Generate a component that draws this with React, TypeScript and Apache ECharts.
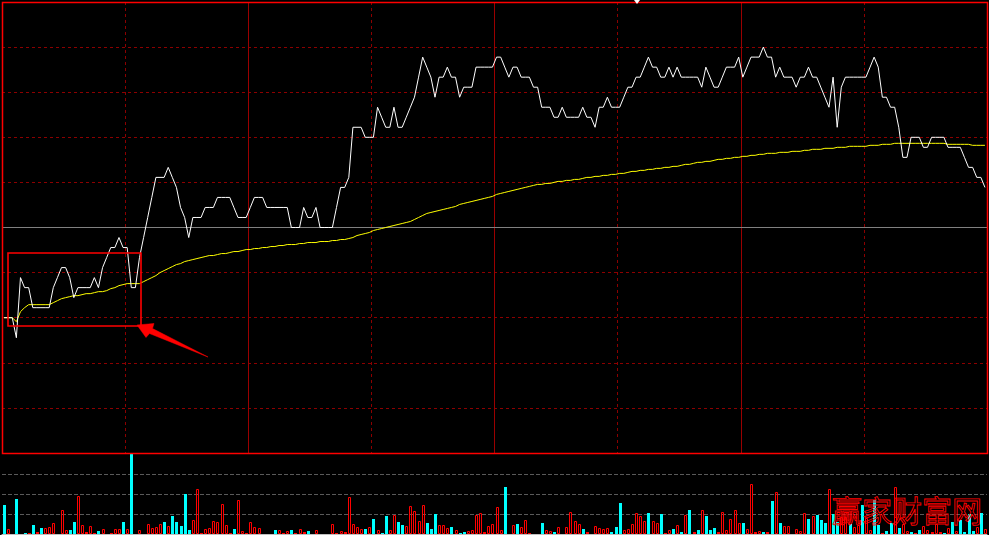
import React, { useEffect, useRef } from "react";
import * as echarts from "echarts";

const PREV_CLOSE = 4.5;

const priceLine = [
  4.41, 4.41, 4.41, 4.39, 4.45, 4.44, 4.44, 4.42, 4.42, 4.42,
  4.42, 4.42, 4.44, 4.45, 4.46, 4.46, 4.45, 4.43, 4.44, 4.44,
  4.44, 4.44, 4.45, 4.44, 4.46, 4.47, 4.48, 4.48, 4.49, 4.48,
  4.48, 4.44, 4.44, 4.47, 4.49, 4.51, 4.53, 4.55, 4.55, 4.55,
  4.56, 4.55, 4.54, 4.52, 4.51, 4.49, 4.51, 4.51, 4.51, 4.52,
  4.52, 4.52, 4.53, 4.53, 4.53, 4.53, 4.52, 4.51, 4.51, 4.51,
  4.52, 4.53, 4.53, 4.53, 4.52, 4.52, 4.52, 4.52, 4.52, 4.52,
  4.50, 4.50, 4.50, 4.52, 4.51, 4.51, 4.52, 4.50, 4.50, 4.50,
  4.50, 4.52, 4.54, 4.54, 4.55, 4.60, 4.60, 4.60, 4.59, 4.59,
  4.59, 4.62, 4.61, 4.60, 4.60, 4.62, 4.60, 4.60, 4.61, 4.62,
  4.63, 4.65, 4.67, 4.66, 4.65, 4.63, 4.65, 4.65, 4.66, 4.65,
  4.65, 4.63, 4.64, 4.64, 4.64, 4.66, 4.66, 4.66, 4.66, 4.66,
  4.67, 4.67, 4.66, 4.65, 4.66, 4.66, 4.65, 4.65, 4.65, 4.64,
  4.64, 4.62, 4.62, 4.62, 4.61, 4.61, 4.62, 4.61, 4.61, 4.61,
  4.61, 4.62, 4.61, 4.61, 4.60, 4.62, 4.62, 4.63, 4.62, 4.62,
  4.62, 4.63, 4.64, 4.64, 4.65, 4.65, 4.66, 4.67, 4.66, 4.66,
  4.65, 4.65, 4.66, 4.65, 4.66, 4.65, 4.65, 4.65, 4.65, 4.65,
  4.64, 4.66, 4.65, 4.64, 4.64, 4.65, 4.66, 4.66, 4.66, 4.67,
  4.65, 4.66, 4.67, 4.67, 4.67, 4.68, 4.67, 4.67, 4.65, 4.66,
  4.65, 4.65, 4.65, 4.64, 4.65, 4.65, 4.66, 4.65, 4.65, 4.64,
  4.63, 4.62, 4.65, 4.60, 4.64, 4.65, 4.65, 4.65, 4.65, 4.65,
  4.65, 4.66, 4.67, 4.66, 4.63, 4.63, 4.62, 4.62, 4.60, 4.57,
  4.57, 4.59, 4.59, 4.59, 4.58, 4.58, 4.59, 4.59, 4.59, 4.59,
  4.58, 4.58, 4.58, 4.58, 4.57, 4.56, 4.56, 4.55, 4.55, 4.54,
];

const avgLine = [
  4.410, 4.410, 4.410, 4.406, 4.416, 4.420, 4.423, 4.423, 4.423, 4.423,
  4.423, 4.423, 4.425, 4.427, 4.429, 4.430, 4.431, 4.432, 4.432, 4.433,
  4.434, 4.434, 4.435, 4.436, 4.436, 4.437, 4.439, 4.440, 4.442, 4.443,
  4.444, 4.444, 4.444, 4.444, 4.446, 4.448, 4.450, 4.452, 4.455, 4.457,
  4.459, 4.461, 4.463, 4.464, 4.466, 4.467, 4.468, 4.469, 4.470, 4.471,
  4.472, 4.472, 4.473, 4.474, 4.474, 4.475, 4.476, 4.476, 4.477, 4.478,
  4.478, 4.479, 4.479, 4.480, 4.480, 4.481, 4.481, 4.482, 4.482, 4.483,
  4.483, 4.483, 4.484, 4.484, 4.485, 4.485, 4.485, 4.486, 4.486, 4.486,
  4.487, 4.487, 4.488, 4.488, 4.489, 4.490, 4.492, 4.493, 4.494, 4.495,
  4.497, 4.498, 4.499, 4.500, 4.501, 4.502, 4.503, 4.504, 4.505, 4.506,
  4.508, 4.510, 4.512, 4.514, 4.515, 4.516, 4.517, 4.518, 4.519, 4.520,
  4.521, 4.523, 4.524, 4.525, 4.526, 4.527, 4.528, 4.529, 4.530, 4.531,
  4.533, 4.534, 4.535, 4.536, 4.537, 4.538, 4.539, 4.540, 4.541, 4.542,
  4.543, 4.543, 4.544, 4.544, 4.545, 4.546, 4.546, 4.547, 4.547, 4.548,
  4.548, 4.549, 4.550, 4.550, 4.551, 4.551, 4.552, 4.552, 4.553, 4.553,
  4.554, 4.554, 4.555, 4.556, 4.556, 4.557, 4.557, 4.558, 4.558, 4.559,
  4.559, 4.560, 4.560, 4.561, 4.561, 4.562, 4.563, 4.563, 4.564, 4.565,
  4.565, 4.566, 4.566, 4.567, 4.568, 4.568, 4.569, 4.569, 4.570, 4.570,
  4.571, 4.571, 4.572, 4.572, 4.573, 4.573, 4.574, 4.574, 4.574, 4.575,
  4.575, 4.575, 4.576, 4.576, 4.576, 4.577, 4.577, 4.578, 4.578, 4.578,
  4.579, 4.579, 4.579, 4.580, 4.580, 4.580, 4.581, 4.581, 4.581, 4.581,
  4.581, 4.582, 4.582, 4.582, 4.583, 4.583, 4.583, 4.584, 4.584, 4.584,
  4.584, 4.584, 4.584, 4.584, 4.584, 4.584, 4.584, 4.584, 4.584, 4.584,
  4.583, 4.583, 4.583, 4.583, 4.583, 4.583, 4.582, 4.582, 4.582, 4.582,
];

const volumes = [
  29, 5, 0, 35, 0, 1, 1, 9, 2, 6,
  6, 7, 11, 0, 24, 4, 4, 12, 38, 9,
  2, 8, 1, 3, 5, 0, 1, 5, 5, 12,
  5, 80, 0, 4, 0, 10, 6, 7, 10, 12,
  8, 18, 12, 8, 40, 4, 14, 45, 1, 5,
  6, 13, 12, 30, 9, 1, 5, 34, 3, 1,
  12, 7, 6, 0, 0, 0, 4, 4, 1, 3,
  4, 1, 5, 2, 3, 0, 4, 0, 0, 0,
  10, 1, 3, 2, 37, 10, 7, 5, 5, 7,
  15, 4, 1, 18, 4, 19, 12, 9, 8, 28,
  23, 13, 29, 11, 5, 20, 9, 9, 6, 7,
  4, 1, 2, 3, 4, 19, 21, 2, 8, 10,
  27, 4, 47, 0, 9, 10, 7, 14, 1, 0,
  0, 11, 4, 3, 2, 7, 0, 7, 22, 13,
  10, 5, 2, 0, 8, 6, 5, 6, 2, 7,
  31, 4, 5, 10, 21, 18, 13, 21, 13, 11,
  20, 1, 4, 5, 9, 2, 19, 24, 2, 4,
  24, 18, 4, 6, 2, 22, 4, 15, 24, 11,
  11, 5, 50, 2, 3, 2, 2, 33, 42, 11,
  8, 8, 0, 5, 3, 21, 15, 18, 19, 14,
  11, 45, 20, 12, 17, 17, 10, 7, 9, 29,
  16, 4, 34, 9, 1, 3, 11, 47, 6, 10,
  3, 2, 1, 4, 8, 4, 2, 10, 2, 1,
  6, 12, 3, 14, 2, 20, 3, 7, 21, 5,
];

// 1 = up tick (red, hollow), 0 = down tick (cyan, filled)
const volUp = [
  0, 1, 1, 0, 1, 0, 1, 0, 1, 0,
  1, 1, 1, 1, 1, 1, 0, 0, 1, 1,
  1, 1, 1, 0, 1, 1, 1, 1, 1, 0,
  1, 0, 1, 1, 1, 1, 1, 1, 1, 0,
  1, 0, 0, 0, 0, 0, 1, 1, 1, 1,
  1, 1, 1, 1, 1, 1, 0, 1, 1, 1,
  1, 1, 1, 1, 1, 1, 0, 1, 1, 1,
  0, 1, 1, 1, 0, 1, 1, 1, 1, 1,
  1, 1, 1, 1, 1, 1, 1, 1, 0, 1,
  0, 1, 0, 0, 1, 1, 0, 0, 1, 1,
  1, 1, 1, 0, 0, 0, 1, 1, 1, 0,
  1, 0, 0, 1, 1, 1, 1, 1, 1, 1,
  1, 1, 0, 1, 1, 0, 1, 1, 1, 1,
  1, 0, 1, 1, 0, 1, 1, 1, 1, 1,
  1, 0, 1, 1, 1, 1, 1, 1, 0, 0,
  0, 1, 1, 1, 1, 1, 1, 0, 1, 1,
  0, 1, 1, 0, 1, 0, 1, 0, 1, 0,
  1, 0, 0, 0, 1, 1, 1, 1, 1, 1,
  0, 1, 1, 1, 1, 0, 1, 0, 1, 0,
  1, 1, 1, 1, 1, 1, 0, 1, 0, 0,
  0, 1, 0, 0, 1, 1, 0, 1, 1, 0,
  1, 1, 0, 0, 1, 0, 0, 1, 0, 1,
  1, 0, 1, 0, 1, 1, 1, 1, 1, 0,
  1, 0, 1, 0, 0, 0, 0, 1, 0, 1,
];

const WATERMARK = "赢家财富网";

const toPct = (p: number) => (p / PREV_CLOSE - 1) * 100;

export default function App() {
  const ref = useRef<HTMLDivElement>(null);

  useEffect(() => {
    if (!ref.current) return;
    const chart = echarts.init(ref.current, null, { renderer: "svg" });

    const gridLineDark = "#8c0000";

    const option: any = {
      animation: false,
      backgroundColor: "#000000",
      grid: [
        { left: 2, top: 2, width: 985, height: 451, show: false },
        { left: 2, top: 454, width: 985, height: 80, show: false },
      ],
      xAxis: [
        {
          type: "value", gridIndex: 0, min: 0, max: 240, interval: 30,
          axisLine: { show: false }, axisTick: { show: false }, axisLabel: { show: false },
          splitLine: { show: true, lineStyle: { color: gridLineDark, type: [3, 3], width: 1 } },
        },
        {
          type: "value", gridIndex: 0, min: 0, max: 240, interval: 60,
          axisLine: { show: false }, axisTick: { show: false }, axisLabel: { show: false },
          splitLine: { show: true, lineStyle: { color: "#9a0000", type: "solid", width: 1 } },
        },
        {
          type: "value", gridIndex: 1, min: 0, max: 240,
          axisLine: { show: true, onZero: false, lineStyle: { color: "#c0c0c0", width: 1 } },
          axisTick: { show: false }, axisLabel: { show: false }, splitLine: { show: false },
        },
      ],
      yAxis: [
        {
          type: "value", gridIndex: 0, min: -5, max: 5, interval: 1,
          axisLine: { show: false }, axisTick: { show: false }, axisLabel: { show: false },
          splitLine: { show: true, lineStyle: { color: gridLineDark, type: [3, 3], width: 1 } },
        },
        {
          type: "value", gridIndex: 1, min: 0, max: 80, interval: 20,
          axisLine: { show: false }, axisTick: { show: false }, axisLabel: { show: false },
          splitLine: {
            show: true,
            lineStyle: { color: ["transparent", "#5a5a5a", "#5a5a5a", "#5a5a5a", "transparent"], type: [4, 2], width: 1 },
          },
        },
      ],
      series: [
        {
          type: "line", xAxisIndex: 0, yAxisIndex: 0,
          data: priceLine.map((p, i) => [i + 0.5, toPct(p)]),
          showSymbol: false, symbol: "none",
          lineStyle: { color: "#ffffff", width: 1 },
          z: 5,
          markLine: {
            silent: true, symbol: ["none", "none"], label: { show: false },
            lineStyle: { color: "#808080", type: "solid", width: 1 },
            data: [{ yAxis: 0 }],
            z: 1,
          },
        },
        {
          type: "line", xAxisIndex: 0, yAxisIndex: 0,
          data: avgLine.map((p, i) => [i + 0.5, toPct(p)]),
          showSymbol: false, symbol: "none",
          lineStyle: { color: "#ffff00", width: 1 },
          z: 4,
        },
        {
          type: "custom", xAxisIndex: 2, yAxisIndex: 1,
          data: volumes.map((v, i) => [i + 0.5, v, volUp[i]]),
          renderItem: (params: any, api: any) => {
            const v = api.value(1);
            if (!v) return null;
            const top = api.coord([api.value(0), v]);
            const base = api.coord([api.value(0), 0]);
            const cx = Math.round(top[0]);
            const ty = Math.round(top[1]);
            const by = Math.round(base[1]);
            const h = by - ty;
            if (api.value(2) === 1) {
              if (h <= 2) {
                return { type: "rect", shape: { x: cx - 1, y: ty, width: 3, height: h }, style: { fill: "#ff0000" } };
              }
              return {
                type: "rect",
                shape: { x: cx - 0.5, y: ty + 0.5, width: 2, height: h - 1 },
                style: { fill: "none", stroke: "#ff0000", lineWidth: 1 },
              };
            }
            return { type: "rect", shape: { x: cx - 1, y: ty, width: 3, height: h }, style: { fill: "#00ffff" } };
          },
          z: 3,
        },
      ],
      graphic: [
        {
          type: "rect", z: 100, silent: true,
          shape: { x: 2.5, y: 2.5, width: 985, height: 451 },
          style: { fill: "none", stroke: "#ff0000", lineWidth: 1.5 },
        },
        {
          type: "rect", z: 100, silent: true,
          shape: { x: 8, y: 253, width: 133, height: 73 },
          style: { fill: "none", stroke: "#ff0000", lineWidth: 1.6 },
        },
        {
          type: "polygon", z: 100, silent: true,
          shape: {
            points: [[137, 325], [154, 323.5], [152.5, 328.5], [208, 357], [149.5, 333.5], [146, 337.5]],
          },
          style: { fill: "#ff0000", stroke: "#ff0000", lineWidth: 0.5 },
        },
        {
          type: "polygon", z: 100, silent: true,
          shape: { points: [[634, 0], [640, 0], [637, 4]] },
          style: { fill: "#ffffff" },
        },
        {
          type: "text", z: 100, silent: true, x: 832, y: 494,
          style: {
            text: WATERMARK,
            font: '30px "Noto Sans CJK SC"',
            fill: "none",
            stroke: "#ff0000",
            lineWidth: 0.9,
          },
        },
      ],
    };

    chart.setOption(option);
    return () => chart.dispose();
  }, []);

  return (
    <div
      ref={ref}
      style={{ position: "fixed", left: 0, top: 0, width: 989, height: 535, background: "#000000" }}
    />
  );
}
